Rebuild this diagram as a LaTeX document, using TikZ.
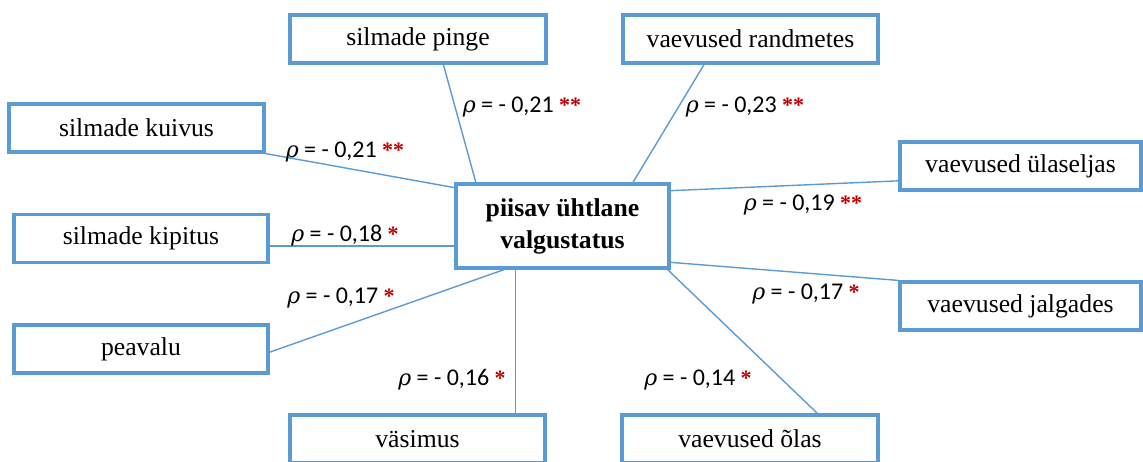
\documentclass[tikz,border=0pt]{standalone}
\usepackage{fontspec}
\setmainfont{Liberation Serif}
\newfontfamily\lblfont{Carlito}
\newfontfamily\rhofont{DejaVu Serif}
\usetikzlibrary{calc}
\definecolor{boxblue}{HTML}{5B9BD5}
\definecolor{starred}{HTML}{C00000}
\tikzset{
  box/.style={draw=boxblue, line width=3.2pt, fill=white, inner sep=0pt,
    minimum height=48pt, font=\fontsize{25.7}{30}\selectfont},
  conn/.style={draw=boxblue, line width=1.4pt},
  lbl/.style={font=\lblfont\fontsize{24}{28}\selectfont, inner sep=0pt}
}
\newcommand{\rhoval}[2]{{\rhofont\itshape\fontsize{22}{26}\selectfont ρ} = - #1 \textcolor{starred}{\rmfamily\bfseries\fontsize{22}{26}\selectfont #2}}
\begin{document}
\begin{tikzpicture}[x=1pt,y=-1pt]
\useasboundingbox (0,0) rectangle (1143,462);
% nodes
\node[box, minimum width=213pt, minimum height=84pt, align=center, font=\fontsize{25.7}{32}\selectfont\bfseries] (c) at (562.5,226) {piisav ühtlane\\valgustatus};
\node[box, minimum width=256pt] (pinge) at (418,39) {silmade pinge};
\node[box, minimum width=255pt] (rand) at (750.5,39) {vaevused randmetes};
\node[box, minimum width=255pt] (kuiv) at (136.5,128) {silmade kuivus};
\node[box, minimum width=254pt] (kip) at (141,238.5) {silmade kipitus};
\node[box, minimum width=254pt] (pea) at (141,349) {peavalu};
\node[box, minimum width=241pt] (ula) at (1020.5,166) {vaevused ülaseljas};
\node[box, minimum width=241pt] (jal) at (1020.5,306) {vaevused jalgades};
\node[box, minimum width=255pt] (vas) at (417.5,439) {väsimus};
\node[box, minimum width=256pt] (ola) at (750,439) {vaevused õlas};
% connectors
\draw[conn] ($(pinge.south west)!0.598!(pinge.south east)$) -- ($(c.north west)!0.099!(c.north east)$);
\draw[conn] ($(rand.south west)!0.32!(rand.south east)$) -- ($(c.north west)!0.826!(c.north east)$);
\draw[conn] (kuiv.south east) -- ($(c.north west)!0.06!(c.south west)$);
\draw[conn] ($(c.north east)!0.095!(c.south east)$) -- ($(ula.north west)!0.79!(ula.south west)$);
\coordinate (kipR) at ($(kip.north east)!0.65!(kip.south east)$);
\draw[conn] (kipR) -- (kipR -| c.west);
\draw[conn] ($(c.north east)!0.917!(c.south east)$) -- (jal.north west);
\draw[conn] ($(pea.north east)!0.5625!(pea.south east)$) -- ($(c.south west)!0.23!(c.south east)$);
\coordinate (vasT) at ($(vas.north west)!0.88!(vas.north east)$);
\draw[conn] (vasT) -- (vasT |- c.south);
\draw[conn] ($(c.south west)!0.986!(c.south east)$) -- ($(ola.north west)!0.76!(ola.north east)$);
% labels
\node[lbl] (l1) at (522,107) {\rhoval{0,21}{**}};
\node[lbl] (l2) at (745,107) {\rhoval{0,23}{**}};
\node[lbl] (l3) at (345,152) {\rhoval{0,21}{**}};
\node[lbl] (l4) at (345,236) {\rhoval{0,18}{*}};
\node[lbl] (l5) at (803,205) {\rhoval{0,19}{**}};
\node[lbl] (l6) at (806,294) {\rhoval{0,17}{*}};
\node[lbl] (l7) at (341,298) {\rhoval{0,17}{*}};
\node[lbl] (l8) at (452,380) {\rhoval{0,16}{*}};
\node[lbl] (l9) at (698,380) {\rhoval{0,14}{*}};
\end{tikzpicture}
\end{document}
